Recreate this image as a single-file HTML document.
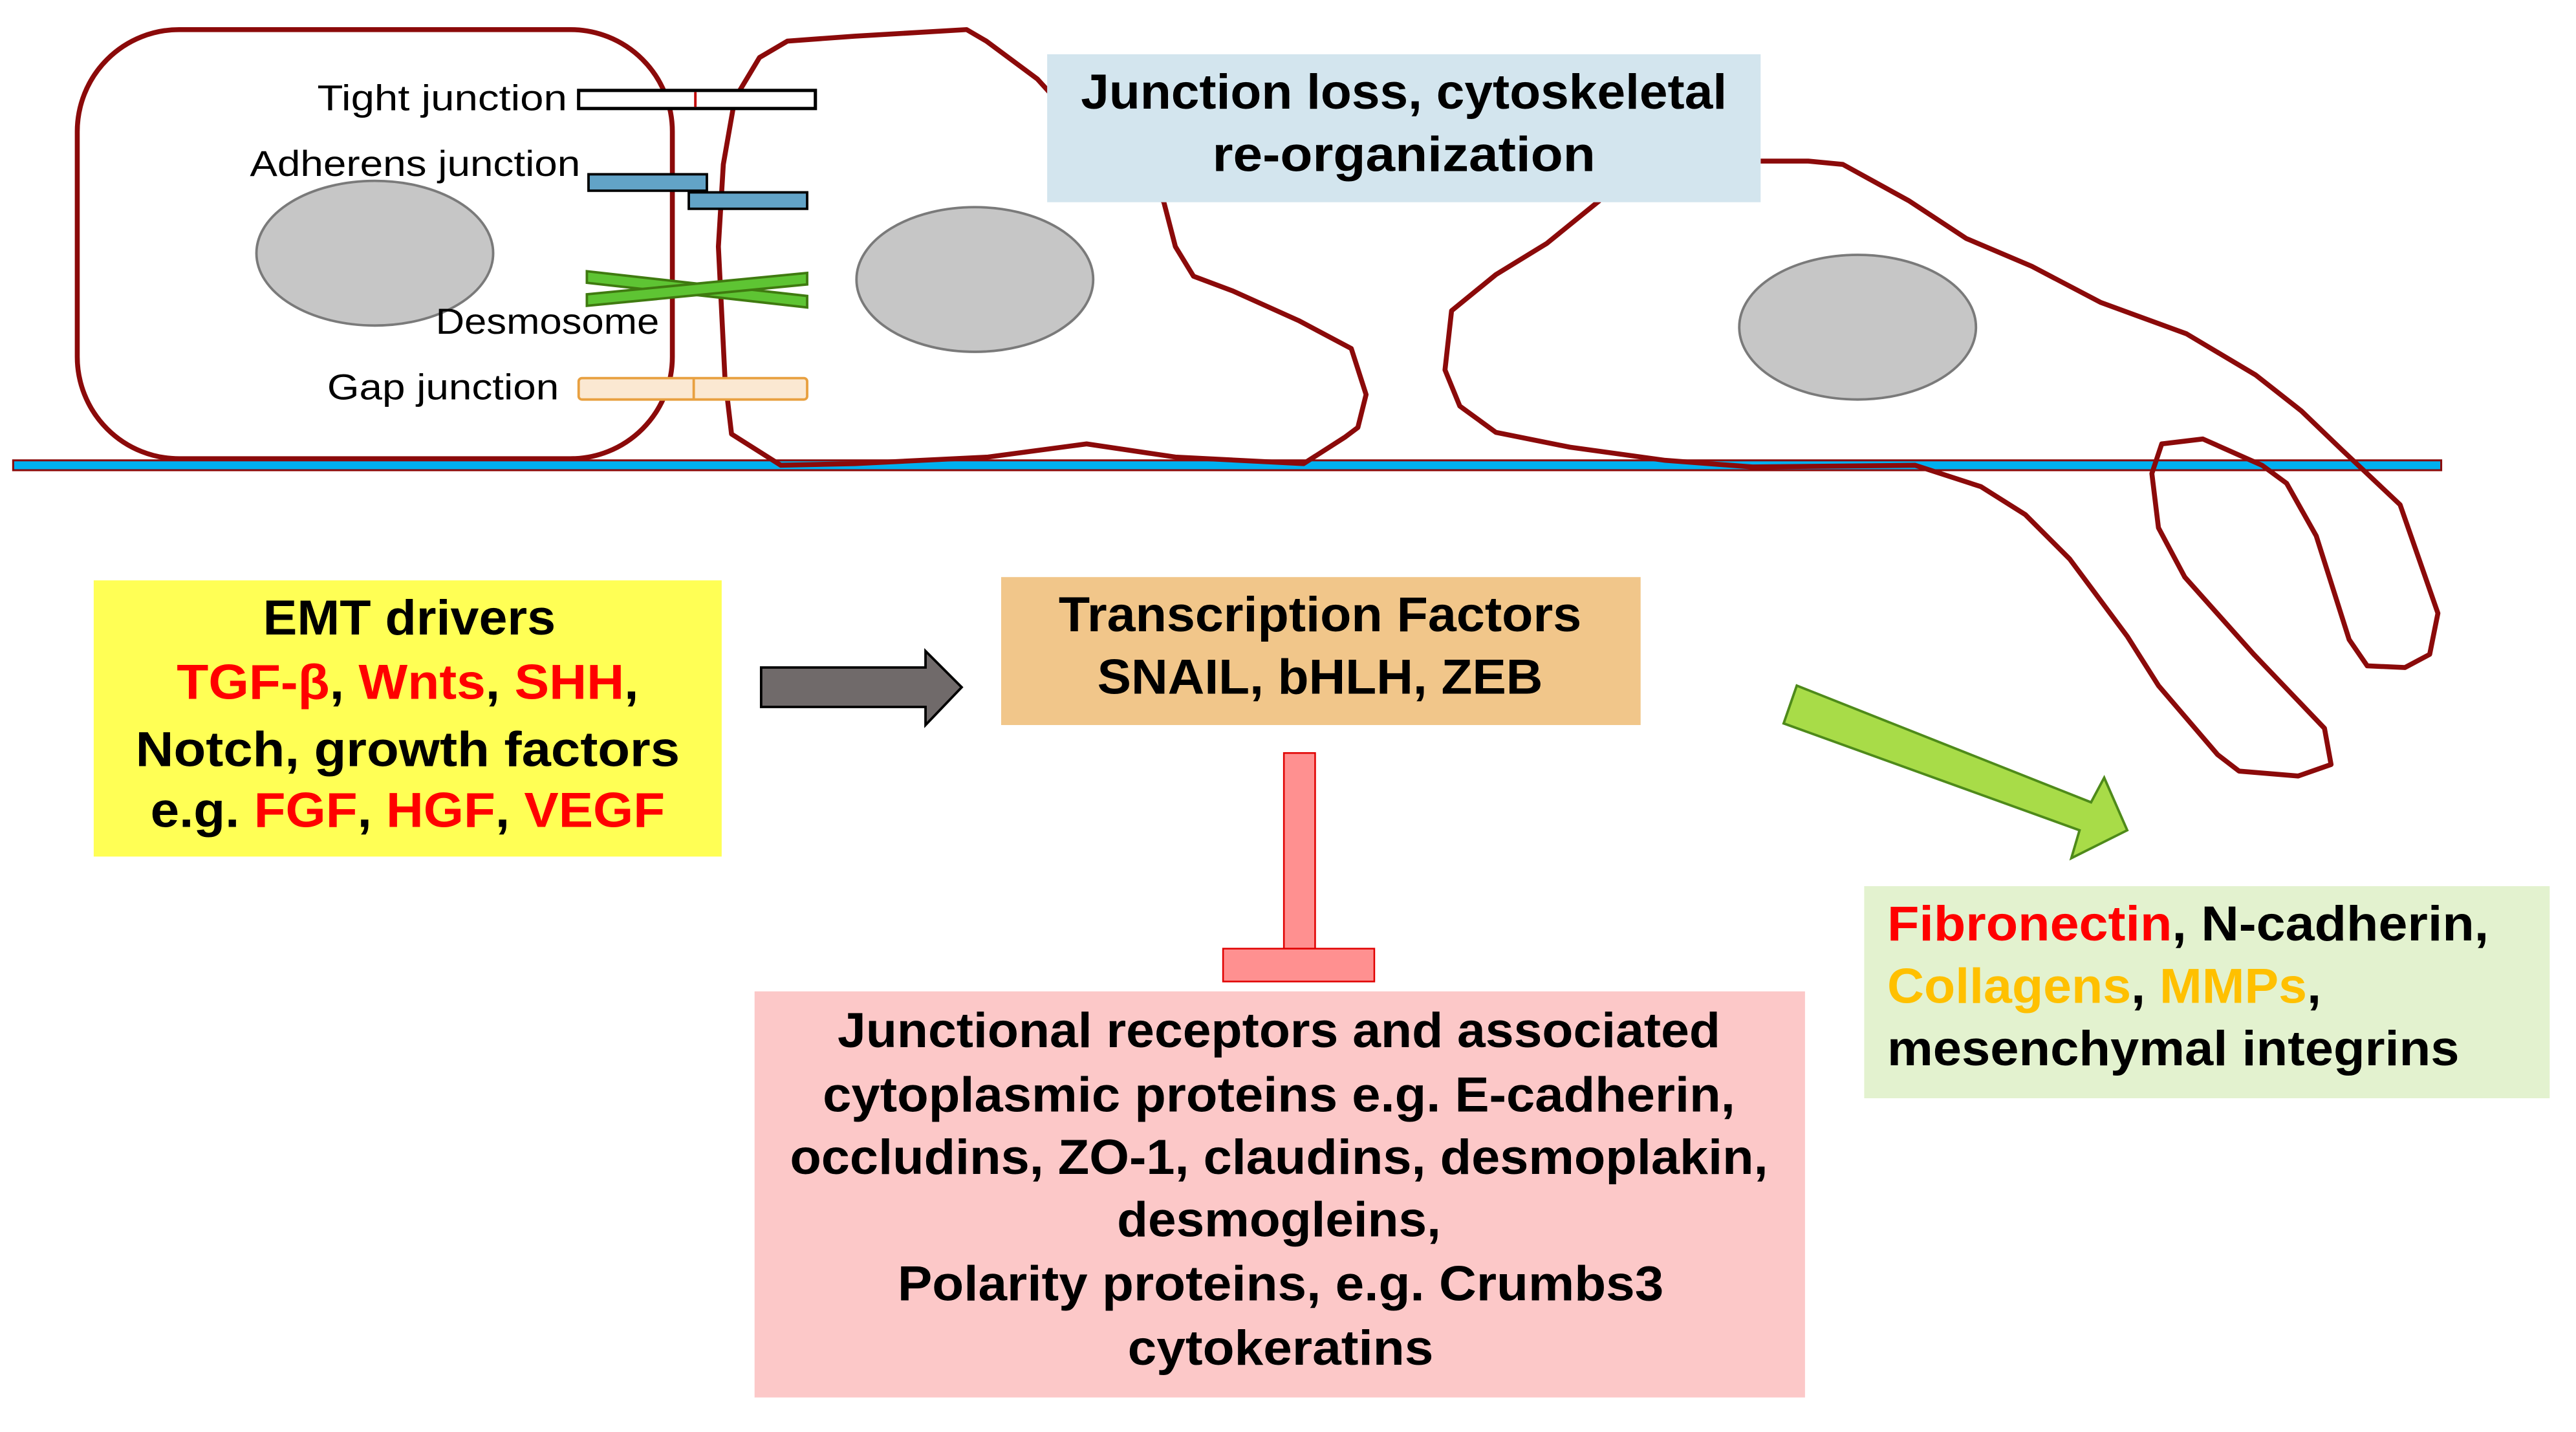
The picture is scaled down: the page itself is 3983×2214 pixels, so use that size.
<!DOCTYPE html>
<html><head><meta charset="utf-8"><style>
html,body{margin:0;padding:0;background:#fff;}
svg{display:block;}
text{font-family:"Liberation Sans",sans-serif;}
.b{font-weight:bold;font-size:30px;}
.l{font-size:22px;}
</style></head><body>
<svg width="3983" height="2214" viewBox="0 0 1567 871" preserveAspectRatio="none" xmlns="http://www.w3.org/2000/svg">
<rect width="1567" height="871" fill="#fff"/>
<!-- basement membrane -->
<rect x="8" y="280" width="1477" height="6" fill="#00b0f0" stroke="#8b0a0a" stroke-width="1.2"/>
<!-- cell 1 -->
<rect x="47" y="18" width="362" height="261" rx="62" fill="none" stroke="#8b0a0a" stroke-width="3"/>
<ellipse cx="228" cy="154" rx="72" ry="44" fill="#c6c6c6" stroke="#7a7a7a" stroke-width="1.5"/>
<!-- cell 2 -->
<path d="M475,283 L445,264 L441,230 L437,150 L440,100 L447,60 L462,35 L479,25 L520,22 L588,18 L600,25 L631,48 L660,80 L700,110 L708,123 L715,150 L726,168 L750,177 L790,195 L822,212 L831,240 L826,260 L818,266 L793,282 L715,278 L661,270 L601,278 L520,282 Z" fill="none" stroke="#8b0a0a" stroke-width="3" stroke-linejoin="round"/>
<ellipse cx="593" cy="170" rx="72" ry="44" fill="#c6c6c6" stroke="#7a7a7a" stroke-width="1.5"/>
<!-- cell 3 -->
<path d="M973,122 L941,148 L910,167 L883,189 L879,225 L888,247 L910,263 L955,272 L1013,280 L1066,284 L1165,283 L1205,296 L1232,313 L1259,340 L1294,387 L1313,417 L1349,459 L1362,469 L1398,472 L1418,465 L1414,443 L1371,398 L1329,351 L1313,321 L1309,288 L1315,270 L1340,267 L1376,283 L1391,294 L1409,326 L1429,389 L1440,405 L1463,406 L1478,398 L1483,373 L1460,307 L1425,274 L1400,250 L1372,228 L1330,203 L1278,184 L1236,162 L1196,145 L1161,122 L1121,100 L1100,98 L1071,98" fill="none" stroke="#8b0a0a" stroke-width="3" stroke-linejoin="round"/>
<ellipse cx="1130" cy="199" rx="72" ry="44" fill="#c6c6c6" stroke="#7a7a7a" stroke-width="1.5"/>
<!-- junctions -->
<rect x="352" y="55" width="144" height="11" fill="#fff" stroke="#000" stroke-width="2"/>
<line x1="423" y1="56" x2="423" y2="65" stroke="#c00000" stroke-width="1.5"/>
<rect x="358" y="106" width="72" height="10" fill="#62a3c7" stroke="#000" stroke-width="1.5"/>
<rect x="419" y="117" width="72" height="10" fill="#62a3c7" stroke="#000" stroke-width="1.5"/>
<polygon points="357,165 491,180 491,187 357,172" fill="#5ec433" stroke="#3f7a10" stroke-width="1.5"/>
<polygon points="357,179 491,166 491,173 357,186" fill="#5ec433" stroke="#3f7a10" stroke-width="1.5"/>
<rect x="352" y="230" width="139" height="13" rx="2" fill="#fbe8d2" stroke="#e8a040" stroke-width="1.5"/>
<line x1="422" y1="230" x2="422" y2="243" stroke="#e8a040" stroke-width="1.5"/>
<text class="l" x="345" y="67" text-anchor="end" textLength="152" lengthAdjust="spacingAndGlyphs">Tight junction</text>
<text class="l" x="353" y="107" text-anchor="end" textLength="201" lengthAdjust="spacingAndGlyphs">Adherens junction</text>
<text class="l" x="401" y="203" text-anchor="end" textLength="136" lengthAdjust="spacingAndGlyphs">Desmosome</text>
<text class="l" x="340" y="243" text-anchor="end" textLength="141" lengthAdjust="spacingAndGlyphs">Gap junction</text>
<!-- blue box -->
<rect x="637" y="33" width="434" height="90" fill="#d3e5ee"/>
<text class="b" x="854" y="66" text-anchor="middle" textLength="393" lengthAdjust="spacingAndGlyphs">Junction loss, cytoskeletal</text>
<text class="b" x="854" y="104" text-anchor="middle" textLength="233" lengthAdjust="spacingAndGlyphs">re-organization</text>
<!-- EMT box -->
<rect x="57" y="353" width="382" height="168" fill="#ffff55"/>
<text class="b" x="249" y="386" text-anchor="middle" textLength="178" lengthAdjust="spacingAndGlyphs">EMT drivers</text>
<text class="b" x="248" y="425" text-anchor="middle" textLength="281" lengthAdjust="spacingAndGlyphs"><tspan fill="#ff0000">TGF-β</tspan>, <tspan fill="#ff0000">Wnts</tspan>, <tspan fill="#ff0000">SHH</tspan>,</text>
<text class="b" x="248" y="466" text-anchor="middle" textLength="331" lengthAdjust="spacingAndGlyphs">Notch, growth factors</text>
<text class="b" x="248" y="503" text-anchor="middle" textLength="313" lengthAdjust="spacingAndGlyphs">e.g. <tspan fill="#ff0000">FGF</tspan>, <tspan fill="#ff0000">HGF</tspan>, <tspan fill="#ff0000">VEGF</tspan></text>
<!-- gray arrow -->
<polygon points="463,406 563,406 563,396 585,418 563,441 563,430 463,430" fill="#706a6a" stroke="#000" stroke-width="1.5"/>
<!-- TF box -->
<rect x="609" y="351" width="389" height="90" fill="#f1c68a"/>
<text class="b" x="803" y="384" text-anchor="middle" textLength="318" lengthAdjust="spacingAndGlyphs">Transcription Factors</text>
<text class="b" x="803" y="422" text-anchor="middle" textLength="271" lengthAdjust="spacingAndGlyphs">SNAIL, bHLH, ZEB</text>
<!-- inhibition -->
<rect x="781" y="458" width="19" height="119" fill="#ff9090" stroke="#e00000" stroke-width="1"/>
<rect x="744" y="577" width="92" height="20" fill="#ff9090" stroke="#e00000" stroke-width="1"/>
<!-- pink box -->
<rect x="459" y="603" width="639" height="247" fill="#fcc8c8"/>
<text class="b" x="778" y="637" text-anchor="middle" textLength="537" lengthAdjust="spacingAndGlyphs">Junctional receptors and associated</text>
<text class="b" x="778" y="676" text-anchor="middle" textLength="555" lengthAdjust="spacingAndGlyphs">cytoplasmic proteins e.g. E-cadherin,</text>
<text class="b" x="778" y="714" text-anchor="middle" textLength="595" lengthAdjust="spacingAndGlyphs">occludins, ZO-1, claudins, desmoplakin,</text>
<text class="b" x="778" y="752" text-anchor="middle" textLength="197" lengthAdjust="spacingAndGlyphs">desmogleins,</text>
<text class="b" x="779" y="791" text-anchor="middle" textLength="466" lengthAdjust="spacingAndGlyphs">Polarity proteins, e.g. Crumbs3</text>
<text class="b" x="779" y="830" text-anchor="middle" textLength="186" lengthAdjust="spacingAndGlyphs">cytokeratins</text>
<!-- green arrow -->
<polygon points="1093,417 1272,488 1280,473 1294,505 1260,522 1265,505 1085,440" fill="#a8dc48" stroke="#4e8a1a" stroke-width="1.5"/>
<!-- green box -->
<rect x="1134" y="539" width="417" height="129" fill="#e3f2cf"/>
<text class="b" x="1148" y="572" textLength="366" lengthAdjust="spacingAndGlyphs"><tspan fill="#ff0000">Fibronectin</tspan>, N-cadherin,</text>
<text class="b" x="1148" y="610" textLength="264" lengthAdjust="spacingAndGlyphs"><tspan fill="#ffc000">Collagens</tspan>, <tspan fill="#ffc000">MMPs</tspan>,</text>
<text class="b" x="1148" y="648" textLength="348" lengthAdjust="spacingAndGlyphs">mesenchymal integrins</text>
</svg>
</body></html>
